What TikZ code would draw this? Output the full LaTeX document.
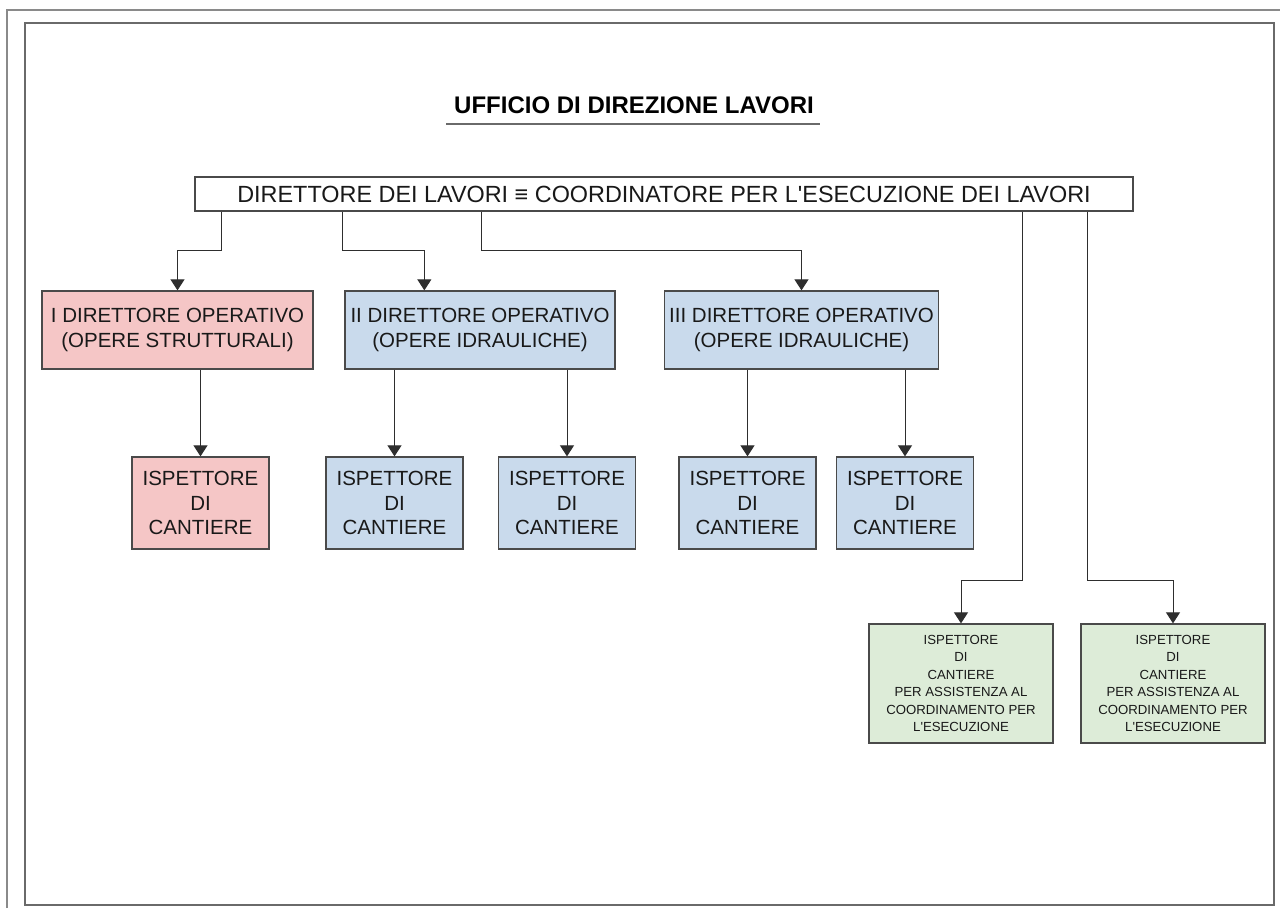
\documentclass[tikz,border=0pt]{standalone}
\usepackage{fontspec}
\setmainfont{Liberation Sans}[Ligatures=TeXOff]
\usetikzlibrary{arrows.meta,calc}
\definecolor{redfill}{HTML}{F5C6C6}
\definecolor{bluefill}{HTML}{C9DAEC}
\definecolor{greenfill}{HTML}{DDECD8}
\definecolor{boxline}{HTML}{4A4A4A}
\definecolor{connline}{HTML}{2E2E2E}
\definecolor{frameouter}{HTML}{8A8A8A}
\definecolor{frameinner}{HTML}{6A6A6A}
\begin{document}
\begin{tikzpicture}[x=1pt,y=-1pt,
  box/.style={draw=boxline,line width=1.3pt,inner sep=0pt,align=center,
              font=\fontsize{20.5}{24.5}\selectfont,text=black!90},
  topbox/.style={box,fill=white,minimum width=938pt,minimum height=34pt,
              font=\fontsize{23.4}{28}\selectfont},
  opbox/.style={box,minimum height=78pt},
  insbox/.style={box,minimum width=137pt,minimum height=92pt},
  coordbox/.style={box,fill=greenfill,minimum width=184pt,minimum height=119pt,
              font=\fontsize{13.2}{17.5}\selectfont},
  conn/.style={draw=connline,line width=1pt},
  arr/.style={conn,-{Triangle[width=14pt,length=11pt]}}
]
\useasboundingbox (0,0) rectangle (1280,908);
\fill[white] (0,0) rectangle (1280,908);

% frames
\draw[frameouter,line width=1.2pt] (7,908) -- (7,10) -- (1280,10);
\draw[frameinner,line width=2pt] (25,23) rectangle (1274,905);

% title
\node[anchor=base,inner sep=0pt,font=\bfseries\fontsize{24}{28}\selectfont] (title) at (634,113) {UFFICIO DI DIREZIONE LAVORI};
\draw[frameinner,line width=1.5pt] (446,124) -- (820,124);

% top
\node[topbox] (top) at (664,194) {DIRETTORE DEI LAVORI ≡ COORDINATORE PER L'ESECUZIONE DEI LAVORI};

% row 1
\node[opbox,fill=redfill,minimum width=271pt] (o1) at (177.5,330) {I DIRETTORE OPERATIVO\\(OPERE STRUTTURALI)};
\node[opbox,fill=bluefill,minimum width=270pt] (o2) at (480,330) {II DIRETTORE OPERATIVO\\(OPERE IDRAULICHE)};
\node[opbox,fill=bluefill,minimum width=274pt] (o3) at (801.5,330) {III DIRETTORE OPERATIVO\\(OPERE IDRAULICHE)};

% row 2
\node[insbox,fill=redfill] (i1) at (200.5,503) {ISPETTORE\\DI\\CANTIERE};
\node[insbox,fill=bluefill] (i2) at (394.5,503) {ISPETTORE\\DI\\CANTIERE};
\node[insbox,fill=bluefill] (i3) at (567,503) {ISPETTORE\\DI\\CANTIERE};
\node[insbox,fill=bluefill] (i4) at (747.5,503) {ISPETTORE\\DI\\CANTIERE};
\node[insbox,fill=bluefill] (i5) at (905,503) {ISPETTORE\\DI\\CANTIERE};

% green
\node[coordbox] (g1) at (961,683.5) {ISPETTORE\\DI\\CANTIERE\\PER ASSISTENZA AL\\COORDINAMENTO PER\\L'ESECUZIONE};
\node[coordbox] (g2) at (1173,683.5) {ISPETTORE\\DI\\CANTIERE\\PER ASSISTENZA AL\\COORDINAMENTO PER\\L'ESECUZIONE};

% connectors from top
\draw[arr] ([xshift=27pt]top.south west) -- ++(0,39) -| (o1.north);
\draw[arr] ([xshift=148pt]top.south west) -- ++(0,39) -| ([xshift=80pt]o2.north west);
\draw[arr] ([xshift=287pt]top.south west) -- ++(0,39) -| (o3.north);
\draw[arr] ([xshift=828pt]top.south west) -- ++(0,369) -| (g1.north);
\draw[arr] ([xshift=893pt]top.south west) -- ++(0,369) -| (g2.north);

% row 1 to row 2
\draw[arr] (i1.north |- o1.south) -- (i1.north);
\draw[arr] (i2.north |- o2.south) -- (i2.north);
\draw[arr] (i3.north |- o2.south) -- (i3.north);
\draw[arr] (i4.north |- o3.south) -- (i4.north);
\draw[arr] (i5.north |- o3.south) -- (i5.north);
\end{tikzpicture}
\end{document}
